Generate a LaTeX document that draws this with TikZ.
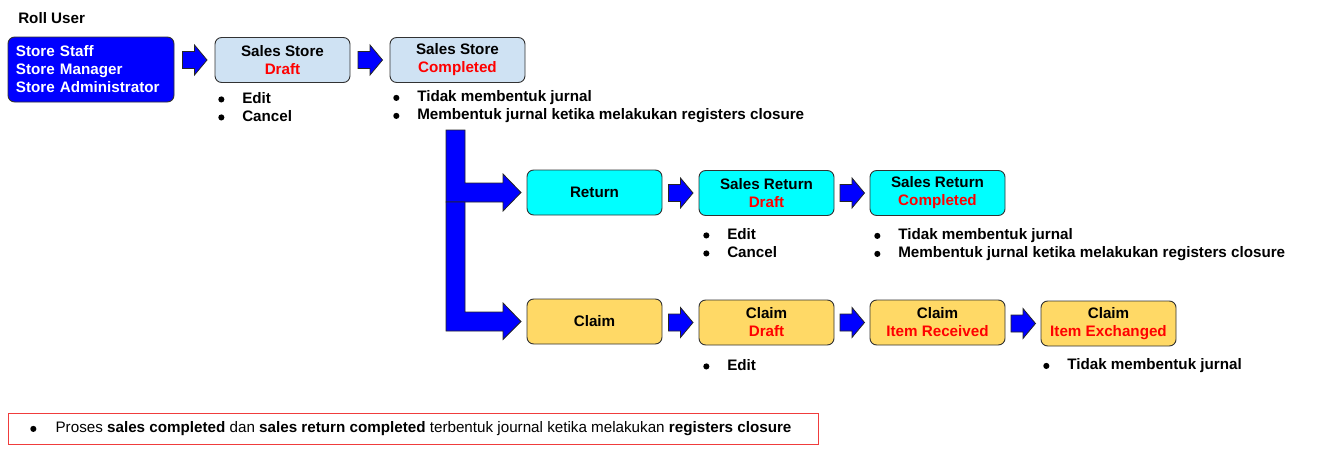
\documentclass[tikz,border=0pt]{standalone}
\usepackage{fontspec}
\setmainfont{Liberation Sans}
\usetikzlibrary{calc}
\definecolor{arrblue}{RGB}{0,0,255}
\definecolor{boxline}{RGB}{50,50,50}
\definecolor{lblue}{RGB}{207,226,243}
\definecolor{cyanbox}{RGB}{0,255,255}
\definecolor{ybox}{RGB}{255,217,102}
\definecolor{redtxt}{RGB}{255,0,0}
\definecolor{redframe}{RGB}{240,60,60}
\newcommand\dotmark{\tikz[baseline=-3pt]\fill (2.3pt,0) circle (2.3pt);}
\newcommand\blt{\makebox[18pt][l]{\dotmark}}
\newcommand\blockarr[2]{\draw[barrow] ($(#1.east |- #2.west)!0.5!(#2.west)$) ++(-12,-8.5) -- ++(12,0) -- ++(0,-6.5) -- ++(12.5,15) -- ++(-12.5,15) -- ++(0,-6.5) -- ++(-12,0) -- cycle;}
\tikzset{
  stbox/.style={draw=boxline, line width=0.7pt, rounded corners=5pt, minimum width=101.25pt, minimum height=33.75pt, inner sep=0pt, align=center, font=\fontsize{11.4}{13.5}\selectfont\bfseries},
  barrow/.style={draw=black!85, line width=0.6pt, fill=arrblue},
  blist/.style={anchor=west, inner sep=0pt, align=left, font=\fontsize{11.4}{13.5}\selectfont\bfseries},
}
\begin{document}
\begin{tikzpicture}[x=0.75pt,y=-0.75pt]
\useasboundingbox (0,0) rectangle (1317,464);
\node[anchor=west, inner sep=0pt, font=\fontsize{11.4}{13.5}\selectfont\bfseries] (title) at (18,18) {Roll User};
\node[stbox, fill=arrblue, text=white, align=left, text width=112.5pt, inner xsep=6pt, minimum height=48.75pt] (roll) at (91,69.5) {Store Staff\\Store Manager\\Store Administrator};
\node[stbox, fill=lblue] (ssd) at (282.5,60) {Sales Store\\\textcolor{redtxt}{Draft}};
\node[stbox, fill=lblue] (ssc) at (457.5,60) {Sales Store\\\textcolor{redtxt}{Completed}};
\node[stbox, fill=cyanbox] (ret) at (594.5,192.5) {Return};
\node[stbox, fill=cyanbox] (srd) at (766.5,193) {Sales Return\\\textcolor{redtxt}{Draft}};
\node[stbox, fill=cyanbox] (src) at (937.5,193) {Sales Return\\\textcolor{redtxt}{Completed}};
\node[stbox, fill=ybox] (clm) at (594.5,321.5) {Claim};
\node[stbox, fill=ybox] (cld) at (766.5,322.5) {Claim\\\textcolor{redtxt}{Draft}};
\node[stbox, fill=ybox] (cir) at (937.5,322.5) {Claim\\\textcolor{redtxt}{Item Received}};
\node[stbox, fill=ybox] (cie) at (1108.5,323.5) {Claim\\\textcolor{redtxt}{Item Exchanged}};
\blockarr{roll}{ssd}
\blockarr{ssd}{ssc}
\blockarr{ret}{srd}
\blockarr{srd}{src}
\blockarr{clm}{cld}
\blockarr{cld}{cir}
\blockarr{cir}{cie}
% L-shaped branch arrows
\coordinate (btop) at (446,130);
\coordinate (bmid) at (446,202);
\draw[barrow] (btop) -- ++(19,0) -- (465,183) -- (503,183) -- (503,174) -- (ret.west -| 521,0) -- (503,211) -- (503,202) -- (bmid) -- cycle;
\draw[barrow] (bmid) -- ++(19,0) -- (465,312) -- (503,312) -- (503,303) -- (clm.west -| 521,0) -- (503,339.5) -- (503,331) -- (446,331) -- cycle;
% bullet lists
\node[blist] (l1) at (218,107) {\blt Edit\\\blt Cancel};
\node[blist] (l2) at (393,107) {\blt Tidak membentuk jurnal\\\blt Membentuk jurnal ketika melakukan registers closure};
\node[blist] (l3) at (703,243) {\blt Edit\\\blt Cancel};
\node[blist] (l4) at (874,245) {\blt Tidak membentuk jurnal\\\blt Membentuk jurnal ketika melakukan registers closure};
\node[blist] (l5) at (703,365) {\blt Edit};
\node[blist] (l6) at (1043,366) {\blt Tidak membentuk jurnal};
% note
\node[draw=redframe, line width=0.6pt, minimum width=607.5pt, minimum height=23.25pt, inner sep=0pt] (note) at (413,428.5) {};
\node[anchor=west, inner sep=0pt, font=\fontsize{11.4}{13.5}\selectfont] (notetxt) at (30,429) {\makebox[19pt][l]{\dotmark}Proses \textbf{sales completed} dan \textbf{sales return completed} terbentuk journal ketika melakukan \textbf{registers closure}};
\end{tikzpicture}
\end{document}
